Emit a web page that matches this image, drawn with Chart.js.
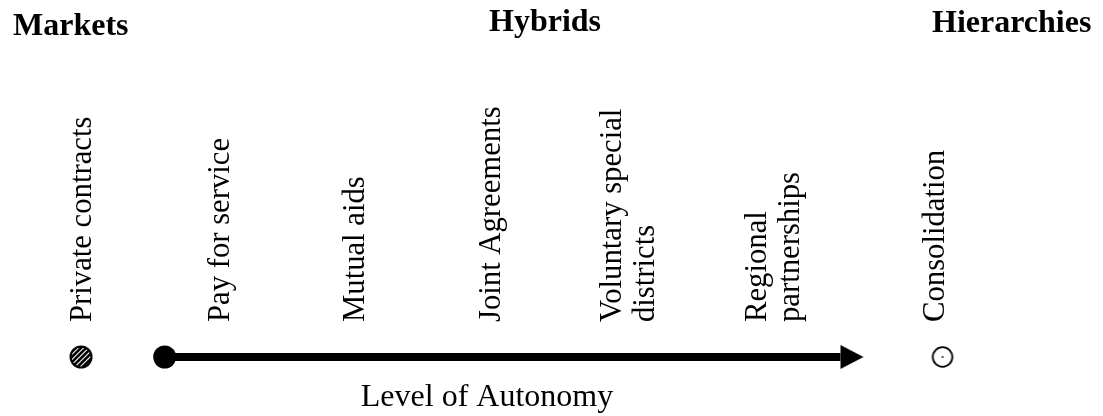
<!DOCTYPE html>
<html>
<head>
<meta charset="utf-8">
<script src="https://cdn.jsdelivr.net/npm/chart.js@4/dist/chart.umd.min.js"></script>
<style>
  html, body { margin: 0; padding: 0; background: #ffffff; }
  #wrap { width: 1103px; height: 416px; }
</style>
</head>
<body>
<div id="wrap"><canvas id="c" width="1103" height="416"></canvas></div>
<script>
// ---- data ----
const headers = ['Markets', 'Hybrids', 'Hierarchies'];
const arrangements = [
  'Private contracts',
  'Pay for service',
  'Mutual aids',
  'Joint Agreements',
  ['Voluntary special', 'districts'],
  ['Regional', 'partnerships'],
  'Consolidation'
];
// position of each arrangement along the autonomy continuum (0-100)
const arrangementLevel = [8.48, 22.65, 36.55, 50.5, 64.6, 79.5, 96.1];
// continuum markers
const marketLevel = [8.32];        // hatched circle (markets)
const hybridRange = [16.91, 86.29]; // arrow from start dot to arrowhead base
const hierarchyLevel = [96.77];    // open circle (hierarchies)
const axisTitle = 'Level of Autonomy';

// ---- marker images ----
function makeHatch() {
  const c = document.createElement('canvas');
  c.width = 24; c.height = 24;
  const g = c.getContext('2d');
  g.save();
  g.beginPath(); g.arc(12, 12, 10.5, 0, Math.PI * 2); g.clip();
  g.fillStyle = '#fff'; g.fillRect(0, 0, 24, 24);
  g.strokeStyle = '#000'; g.lineWidth = 2.6;
  for (let k = -30; k < 60; k += 5.2) {
    g.beginPath(); g.moveTo(k, 24); g.lineTo(k + 24, 0); g.stroke();
  }
  g.restore();
  g.beginPath(); g.arc(12, 12, 10.5, 0, Math.PI * 2);
  g.lineWidth = 2; g.strokeStyle = '#000'; g.stroke();
  return c;
}
function makeOpen() {
  const c = document.createElement('canvas');
  c.width = 24; c.height = 24;
  const g = c.getContext('2d');
  g.beginPath(); g.arc(12, 12, 9.8, 0, Math.PI * 2);
  g.fillStyle = '#fff'; g.fill();
  g.lineWidth = 1.8; g.strokeStyle = '#000'; g.stroke();
  g.beginPath(); g.arc(12, 12, 1.1, 0, Math.PI * 2);
  g.fillStyle = '#333'; g.fill();
  return c;
}
function makeArrowHead() {
  const c = document.createElement('canvas');
  c.width = 48; c.height = 24;
  const g = c.getContext('2d');
  g.beginPath(); g.moveTo(24, 0); g.lineTo(47, 12); g.lineTo(24, 24); g.closePath();
  g.fillStyle = '#000'; g.fill();
  return c;
}

const serif = "'Liberation Serif', 'Times New Roman', Times, serif";

const textPlugin = {
  id: 'diagramText',
  afterDraw(chart) {
    const ctx = chart.ctx;
    const xs = chart.scales.x, ys = chart.scales.y;
    const rowY = ys.getPixelForValue(0);
    // headers
    ctx.save();
    ctx.fillStyle = '#000';
    ctx.font = 'bold 32px ' + serif;
    ctx.textAlign = 'left';
    ctx.textBaseline = 'alphabetic';
    const hx = [13, 489, 932], hy = [35, 31, 31.5];
    headers.forEach((h, i) => ctx.fillText(h, hx[i], hy[i]));
    ctx.restore();
    // rotated arrangement labels
    const fs = 30.7, lh = 33;
    arrangements.forEach((lab, i) => {
      const lines = Array.isArray(lab) ? lab : [lab];
      const cx = xs.getPixelForValue(arrangementLevel[i]);
      ctx.save();
      ctx.translate(cx, rowY - 35);
      ctx.rotate(-Math.PI / 2);
      ctx.fillStyle = '#000';
      ctx.font = fs + 'px ' + serif;
      ctx.textAlign = 'left';
      ctx.textBaseline = 'middle';
      lines.forEach((ln, j) => {
        const off = (j - (lines.length - 1) / 2) * lh;
        ctx.fillText(ln, 0, off);
      });
      ctx.restore();
    });
  }
};

new Chart(document.getElementById('c'), {
  type: 'scatter',
  data: {
    datasets: [
      {
        type: 'line',
        data: hybridRange.map(v => ({ x: v, y: 0 })),
        borderColor: '#000',
        borderWidth: 8,
        pointStyle: ['circle', makeArrowHead()],
        pointRadius: [11.5, 12],
        pointBackgroundColor: '#000',
        pointBorderWidth: 0,
        clip: false
      },
      {
        data: marketLevel.map(v => ({ x: v, y: 0 })),
        pointStyle: makeHatch(),
        pointRadius: 11,
        clip: false
      },
      {
        data: hierarchyLevel.map(v => ({ x: v, y: 0 })),
        pointStyle: makeOpen(),
        pointRadius: 11,
        clip: false
      }
    ]
  },
  options: {
    responsive: false,
    animation: false,
    devicePixelRatio: 1,
    layout: { autoPadding: false, padding: { left: 0, right: 129, top: 0, bottom: 0 } },
    plugins: { legend: { display: false }, tooltip: { enabled: false } },
    events: [],
    scales: {
      x: {
        type: 'linear', min: 0, max: 100,
        grid: { display: false, drawTicks: false },
        border: { display: false },
        ticks: { display: false },
        title: {
          display: true, text: axisTitle, color: '#000',
          font: { family: serif, size: 32, lineHeight: 1 },
          padding: { top: 25, bottom: 2 }
        }
      },
      y: { type: 'linear', min: 0, max: 1, display: false }
    }
  },
  plugins: [textPlugin]
});
</script>
</body>
</html>
